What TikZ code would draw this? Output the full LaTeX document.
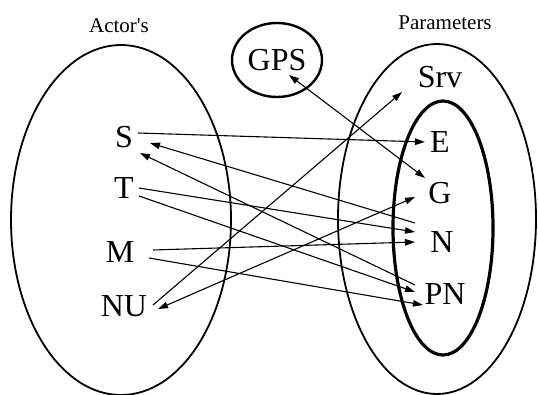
\documentclass[tikz,border=0pt]{standalone}
\usepackage{fontspec}
\setmainfont{Liberation Serif}
\usetikzlibrary{positioning,arrows.meta,shapes.geometric}

\begin{document}
\begin{tikzpicture}[x=1pt,y=-1pt,on grid,
letter/.style={inner sep=1pt,font=\fontsize{32}{38}\selectfont},
caption/.style={inner sep=1pt,font=\fontsize{21}{25}\selectfont},
link/.style={line width=1.1pt,-{Triangle[length=10pt,width=6.5pt]}},
twoway/.style={line width=1.1pt,{Triangle[length=10pt,width=6.5pt]}-{Triangle[length=10pt,width=6.5pt]}}]
\useasboundingbox (0,0) rectangle (538,395);
\draw[line width=1.8pt](121,220) ellipse [x radius=110pt,y radius=175pt];
\draw[line width=1.8pt](437,219) ellipse [x radius=99pt,y radius=175pt];
\draw[line width=3.2pt](443,228) ellipse [x radius=50pt,y radius=127pt];
\node[caption](actors) at (119,26) {Actor\textquotesingle s};
\node[caption](params) at (445,23) {Parameters};
\node[letter,draw,ellipse,line width=2.4pt,minimum width=90pt,minimum height=74pt](gps) at (277,60) {GPS};
\node[letter](S) at (124,137) {S};
\node[letter,below=51pt of S](T) {T};
\node[letter,below left=64pt and 4pt of T](M) {M};
\node[letter,below right=54pt and 4pt of M](NU) {NU};
\node[letter](Srv) at (440,77) {Srv};
\node[letter,below=65pt of Srv](E) {E};
\node[letter,below=51pt of E](G) {G};
\node[letter,below right=49pt and 2pt of G](N) {N};
\node[letter,below right=52pt and 3pt of N](PN) {PN};
\draw[link]([shift={(14,-4)}]S.center)--([shift={(-15,0)}]E.center);
\draw[twoway]([shift={(12,15)}]gps.center)--([shift={(-15,-15)}]G.center);
\draw[link]([shift={(29,-1)}]NU.center)--([shift={(-38,15)}]Srv.center);
\draw[twoway]([shift={(-25,4)}]G.center)--([shift={(34,3)}]NU.center);
\draw[link]([shift={(-27,-19)}]N.center)--([shift={(26,6)}]S.center);
\draw[link]([shift={(-30,-9)}]PN.center)--([shift={(16,16)}]S.center);
\draw[link]([shift={(15,0)}]T.center)--([shift={(-27,-10)}]N.center);
\draw[link]([shift={(15,8)}]T.center)--([shift={(-30,-2)}]PN.center);
\draw[link]([shift={(33,-2)}]M.center)--([shift={(-27,0)}]N.center);
\draw[link]([shift={(29,6)}]M.center)--([shift={(-22,11)}]PN.center);
\end{tikzpicture}
\end{document}
